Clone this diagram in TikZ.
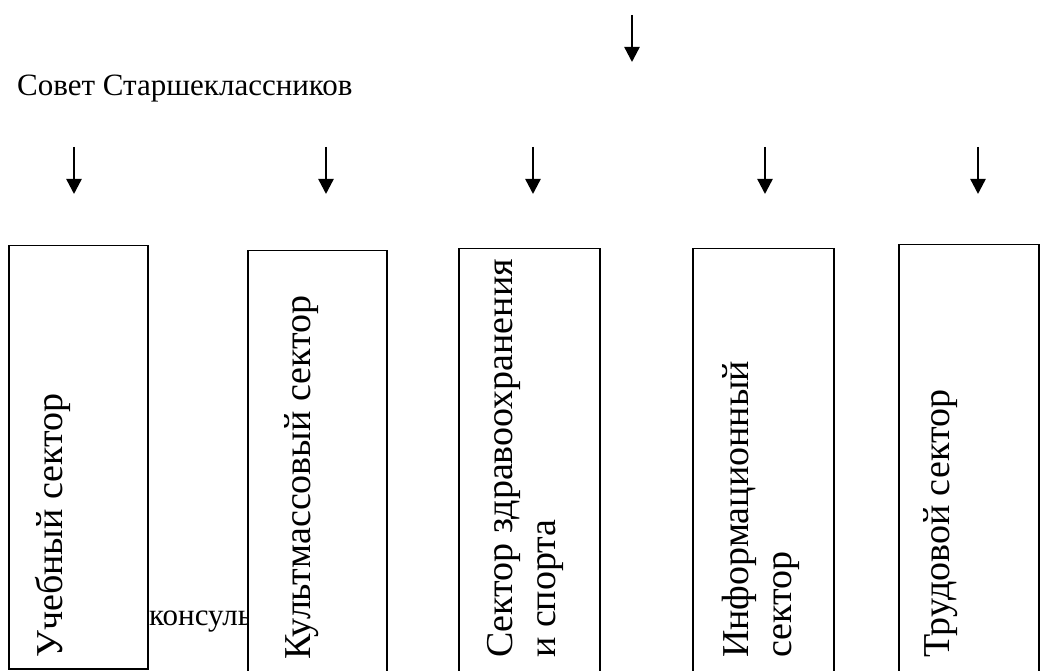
\documentclass[tikz,border=0pt]{standalone}
\usepackage{fontspec}
\setmainfont{Liberation Serif}
\newfontfamily\lserif{Liberation Serif}
\usetikzlibrary{arrows.meta}
\begin{document}
\begin{tikzpicture}[x=1pt,y=-1pt,
  sectbox/.style={draw, line width=1.5pt, fill=white, inner sep=0pt, anchor=north west},
  arr/.style={line width=2.4pt, -{Triangle[width=15pt,length=15pt]}},
  plain/.style={inner sep=0pt, anchor=base west, font=\lserif\fontsize{31}{37}\selectfont},
  rot/.style={inner sep=0pt, anchor=base west, rotate=90, font=\lserif\fontsize{38}{44}\selectfont}]
\useasboundingbox (0,0) rectangle (1042,671);
% title
\node[plain] (title) at (17,96) {Совет Старшеклассников};
% hidden text behind box 2
\node[plain] (cons) at (149,625) {консультации};
% boxes
\node[sectbox, minimum width=139pt, minimum height=423pt] (b1) at (8,245) {};
\node[sectbox, minimum width=139pt, minimum height=430pt] (b2) at (247,250) {};
\node[sectbox, minimum width=141pt, minimum height=430pt] (b3) at (458,248) {};
\node[sectbox, minimum width=141pt, minimum height=430pt] (b4) at (692,248) {};
\node[sectbox, minimum width=140pt, minimum height=440pt] (b5) at (898,244) {};
% texts
\node[rot] (t1) at (62,658) {Учебный сектор};
\node[rot] (t2) at (310,660) {Культмассовый сектор};
\node[rot] (t3a) at (512,658) {Сектор здравоохранения};
\node[rot] (t3b) at (555,658) {и спорта};
\node[rot] (t4a) at (748,658) {Информационный};
\node[rot] (t4b) at (791,658) {сектор};
\node[rot] (t5) at (949,658) {Трудовой сектор};
% arrows
\coordinate (top0) at (632,15);
\coordinate (top1) at (632,62);
\draw[arr] (top0) -- (top1);
\foreach \i/\x in {1/74,2/326,3/533,4/765,5/978}{
  \coordinate (s\i) at (\x,147);
  \coordinate (e\i) at (\x,194);
  \draw[arr] (s\i) -- (e\i);
}
\end{tikzpicture}
\end{document}
